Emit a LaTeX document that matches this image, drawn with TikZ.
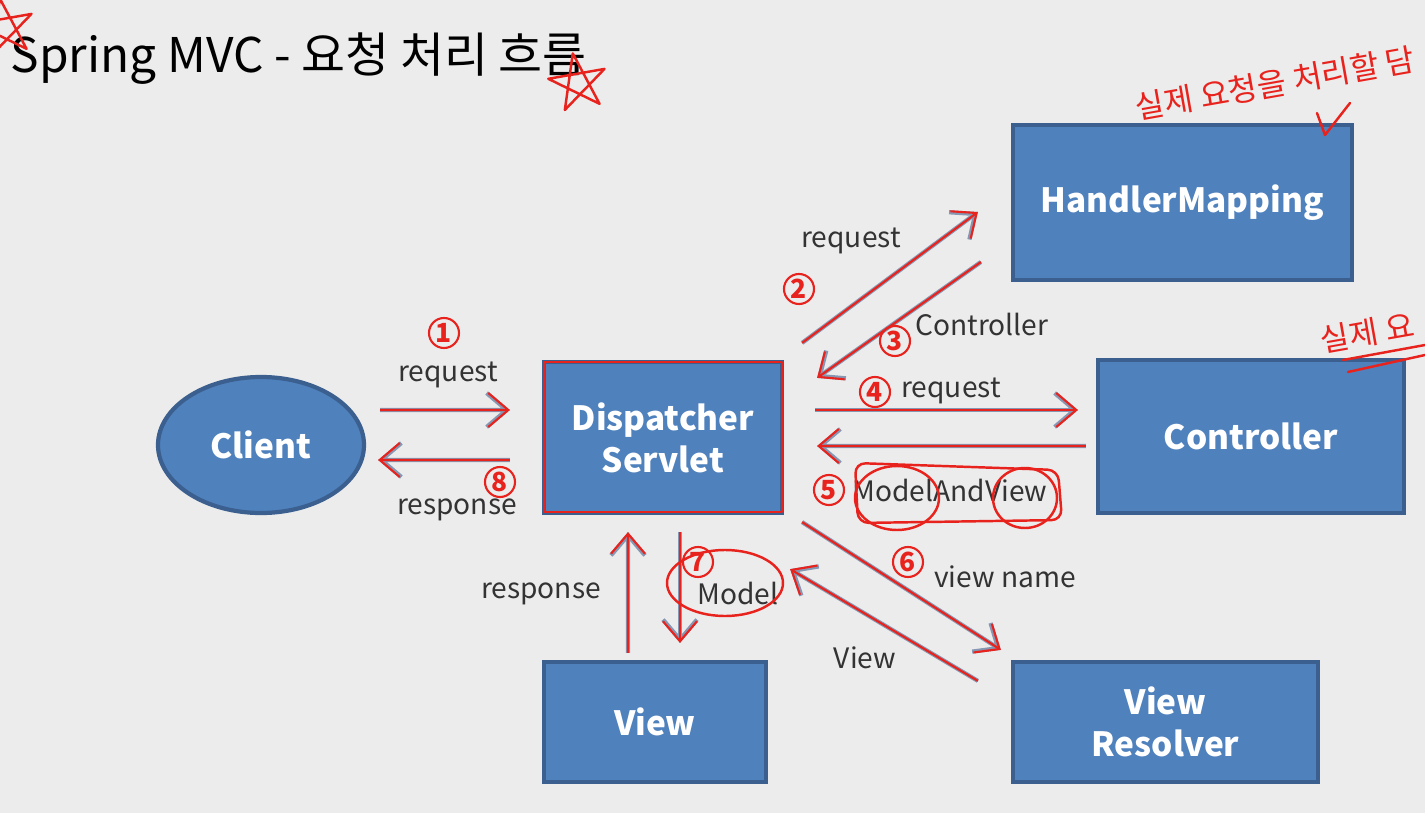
\documentclass[tikz,border=0pt]{standalone}
\usepackage{fontspec}
\setmainfont{Noto Sans CJK KR}
\usetikzlibrary{positioning, arrows.meta, shapes.geometric}
\definecolor{slidebg}{HTML}{ECECEC}
\definecolor{boxblue}{HTML}{4F81BD}
\definecolor{boxedge}{HTML}{3B6090}
\definecolor{flowgray}{HTML}{8597B3}
\definecolor{pen}{HTML}{E8231E}
\definecolor{labelgray}{HTML}{333333}

\begin{document}
\begin{tikzpicture}[
  block/.style={draw=boxedge, fill=boxblue, line width=1.2pt, text=white,
    font=\bfseries\fontsize{9.5}{12}\selectfont, align=center, inner sep=0pt},
  flow/.style={draw=flowgray, line width=1.2pt, -{Straight Barb[length=2mm,width=3.4mm]},
    postaction={draw=pen, line width=0.6pt, -{Straight Barb[length=2mm,width=3.4mm]}}},
  pentrace/.style={draw=pen, line width=0.7pt, line cap=round, line join=round},
  lbl/.style={text=labelgray, font=\fontsize{8}{10}\selectfont, inner sep=1pt},
  num/.style={circle, draw=pen, text=pen, line width=0.6pt, minimum size=0.3cm,
    inner sep=0pt, font=\bfseries\fontsize{7.5}{8}\selectfont},
  hand/.style={text=pen, font=\fontsize{9}{11}\selectfont, rotate=10, anchor=west, inner sep=0pt}
]
  % ── Slide background ──
  \useasboundingbox (0,0) rectangle (14.25,8.13);
  \clip (0,0) rectangle (14.25,8.13);
  \fill[slidebg] (0,0) rectangle (14.25,8.13);

  % ── Title ──
  \node[anchor=base west, inner sep=0pt, font=\fontsize{13.6}{16}\selectfont]
    (title) at (0.10,7.41) {Spring MVC - 요청 처리 흐름};

  % ── Blocks ──
  \node[block, ellipse, minimum width=2.06cm, minimum height=1.36cm] (client) at (2.61,3.68) {Client};
  \node[block, minimum width=2.38cm, minimum height=1.51cm] (disp) at (6.63,3.755) {Dispatcher\\Servlet};
  \node[block, minimum width=3.39cm, minimum height=1.55cm] (hm) at (11.825,6.105) {HandlerMapping};
  \node[block, minimum width=3.06cm, minimum height=1.53cm] (ctrl) at (12.51,3.765) {Controller};
  \node[block, minimum width=2.22cm, minimum height=1.20cm] (view) at (6.55,0.91) {View};
  \node[block, minimum width=3.05cm, minimum height=1.20cm] (vr) at (11.655,0.91) {View\\Resolver};

  % ── Connectors ──
  \draw[flow] ([shift={(0.14,0.35)}]client.east) -- ([shift={(-0.32,0.275)}]disp.west);
  \draw[flow] ([shift={(-0.32,-0.225)}]disp.west) -- ([shift={(0.12,-0.15)}]client.east);
  \draw[flow] ([shift={(0.18,0.17)}]disp.north east) -- ([shift={(-0.33,-0.095)}]hm.west);
  \draw[flow] ([shift={(-0.30,-0.595)}]hm.west) -- ([shift={(0.33,-0.18)}]disp.north east);
  \draw[flow] ([shift={(0.31,0.275)}]disp.east) -- ([shift={(-0.18,0.265)}]ctrl.west);
  \draw[flow] ([shift={(-0.10,-0.095)}]ctrl.west) -- ([shift={(0.33,-0.085)}]disp.east);
  \draw[flow] ([shift={(0.18,-0.07)}]disp.south east) -- ([shift={(-0.10,0.10)}]vr.north west);
  \draw[flow] ([shift={(-0.33,-0.21)}]vr.north west) -- ([shift={(0.06,-0.54)}]disp.south east);
  \draw[flow] ([shift={(-0.27,0.07)}]view.north) -- ([shift={(-0.35,-0.17)}]disp.south);
  \draw[flow] ([shift={(0.17,-0.17)}]disp.south) -- ([shift={(0.25,0.17)}]view.north);

  % ── Connector labels ──
  \node[lbl] (lreqa) at (4.48,4.38) {request};
  \node[lbl] (lresa) at (4.57,3.03) {response};
  \node[lbl] (lreqb) at (8.51,5.72) {request};
  \node[lbl] (lctrl) at (9.82,4.89) {Controller};
  \node[lbl] (lreqc) at (9.51,4.22) {request};
  \node[lbl] (lmav) at (9.50,3.23) {ModelAndView};
  \node[lbl] (lvname) at (10.05,2.36) {view name};
  \node[lbl] (lview) at (8.65,1.55) {View};
  \node[lbl] (lresb) at (5.41,2.19) {response};
  \node[lbl] (lmodel) at (7.38,2.20) {Model};

  % ── Step numbers (red pen) ──
  \foreach \n/\x/\y in {1/4.44/4.80, 2/7.99/5.24, 3/8.95/4.72, 4/8.75/4.21,
                        5/8.29/3.23, 6/9.08/2.51, 7/6.98/2.51, 8/5.00/3.31}
    \node[num] (step\n) at (\x,\y) {\n};

  % ── Pen marks ──
  \draw[pentrace] ([shift={(0.02,-0.02)}]disp.north west) rectangle ([shift={(-0.02,0.03)}]disp.south east);
  \draw[pentrace] (7.25,2.30) ellipse (0.58 and 0.33);
  \draw[pentrace, rounded corners=3pt] (8.55,3.50) -- (10.58,3.43) -- (10.62,2.93) -- (8.58,2.90) -- cycle;
  \draw[pentrace] (8.97,3.15) ellipse (0.42 and 0.32);
  \draw[pentrace] (10.25,3.15) ellipse (0.32 and 0.30);
  \draw[pentrace] (5.78,7.30) +(100:0.3) -- +(244:0.3) -- +(28:0.3) -- +(172:0.3) -- +(316:0.3) -- cycle;
  \draw[pentrace] (0.05,7.85) +(100:0.3) -- +(244:0.3) -- +(28:0.3) -- +(172:0.3) -- +(316:0.3) -- cycle;
  \draw[pentrace] (13.17,7.00) -- (13.25,6.78) -- (13.50,7.10);
  \draw[pentrace] (13.43,4.53) -- (14.25,4.68);
  \draw[pentrace] (13.48,4.41) -- (14.25,4.58);
  \node[hand] (notea) at (11.35,7.05) {실제 요청을 처리할 담};
  \node[hand] (noteb) at (13.20,4.72) {실제 요};
\end{tikzpicture}
\end{document}
